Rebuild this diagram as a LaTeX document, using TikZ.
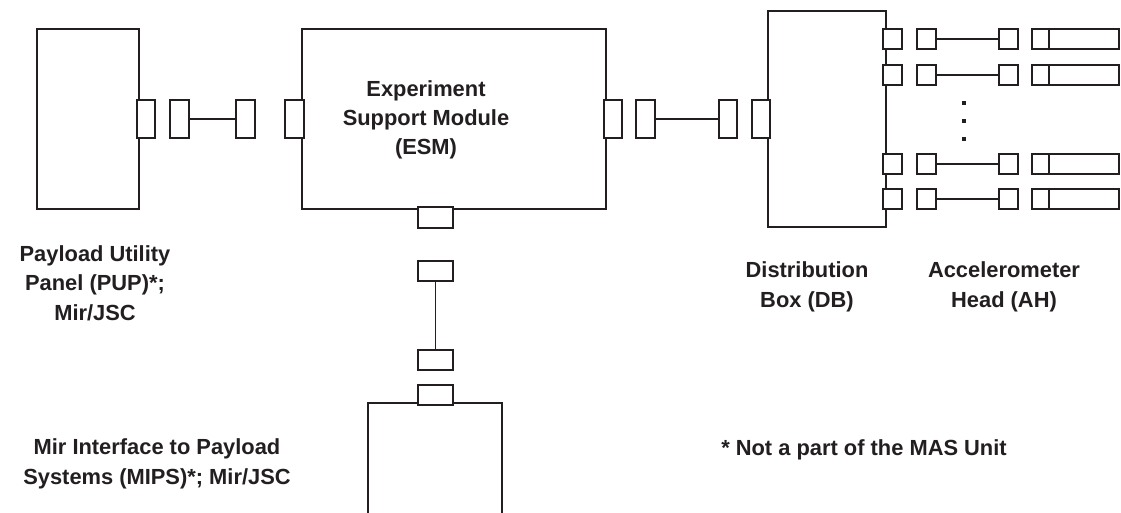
\documentclass[tikz,border=0pt]{standalone}
\usepackage{fontspec}
\setmainfont{Liberation Sans}[BoldFont={Liberation Sans Bold}]
\usetikzlibrary{fit}
\definecolor{ink}{HTML}{231F20}
\begin{document}
\begin{tikzpicture}[x=0.75pt,y=-0.75pt,
 box/.style={draw=ink,line width=1.4pt,fill=white,inner sep=0pt},
 conn/.style={draw=ink,line width=1.4pt,fill=white,inner sep=0pt},
 cable/.style={draw=ink,line width=0.9pt},
 dot/.style={fill=ink,minimum size=3.3pt,inner sep=0pt},
 lbl/.style={text=ink,font=\fontsize{16.4}{22}\selectfont\bfseries,align=center,inner sep=0pt}]
\useasboundingbox (0,0) rectangle (1121,512);
\clip (0,0) rectangle (1121,512);
\fill[white] (0,0) rectangle (1121,512);
% main units
\node[box,fit={(37,29)(139,209)}] (pup) {};
\node[box,fit={(302,29)(606,209)}] (esm) {};
\node[box,fit={(768,11)(886,227)}] (db) {};
\node[box,fit={(368,403)(502,530)}] (mips) {};
% connectors PUP-ESM
\node[conn,fit={(137,100)(155,138)}] (pupc) {};
\node[conn,fit={(170,100)(189,138)}] (c1a) {};
\node[conn,fit={(236,100)(255,138)}] (c1b) {};
\node[conn,fit={(285,100)(304,138)}] (esmcl) {};
\draw[cable] (c1a.east) -- (c1b.west);
% connectors ESM-DB
\node[conn,fit={(604,100)(622,138)}] (esmcr) {};
\node[conn,fit={(636,100)(655,138)}] (c2a) {};
\node[conn,fit={(719,100)(737,138)}] (c2b) {};
\node[conn,fit={(752,100)(770,138)}] (dbcl) {};
\draw[cable] (c2a.east) -- (c2b.west);
% connectors ESM-MIPS
\node[conn,fit={(418,207)(453,228)}] (esmcb) {};
\node[conn,fit={(418,261)(453,281)}] (c3a) {};
\node[conn,fit={(418,350)(453,370)}] (c3b) {};
\node[conn,fit={(418,385)(453,405)}] (mipsc) {};
\draw[cable] (c3a.south) -- (c3b.north);
% DB - AH rows
\foreach \i/\ya/\yb in {1/29/49, 2/65/85, 3/154/174, 4/189/209}{
 \node[conn,fit={(883,\ya)(902,\yb)}] (dbc\i) {};
 \node[conn,fit={(917,\ya)(936,\yb)}] (c4a\i) {};
 \node[conn,fit={(999,\ya)(1018,\yb)}] (c4b\i) {};
 \node[conn,fit={(1032,\ya)(1049,\yb)}] (ahc\i) {};
 \node[box,fit={(1049,\ya)(1119,\yb)}] (ah\i) {};
 \draw[cable] (c4a\i.east) -- (c4b\i.west);
}
\node[dot] (d1) at (964,103) {};
\node[dot] (d2) at (964,121) {};
\node[dot] (d3) at (964,139) {};
% labels
\node[lbl] (esml) at (426,120) {Experiment\\Support Module\\(ESM)};
\node[lbl] (pupl) at (95,283) {Payload Utility\\Panel (PUP)*;\\Mir/JSC};
\node[lbl] (mipsl) at (157,464) {Mir Interface to Payload\\Systems (MIPS)*; Mir/JSC};
\node[lbl] (dbl) at (807,287) {Distribution\\Box (DB)};
\node[lbl] (ahl) at (1004,287) {Accelerometer\\Head (AH)};
\node[lbl] (note) at (864,450) {* Not a part of the MAS Unit};
\end{tikzpicture}
\end{document}
